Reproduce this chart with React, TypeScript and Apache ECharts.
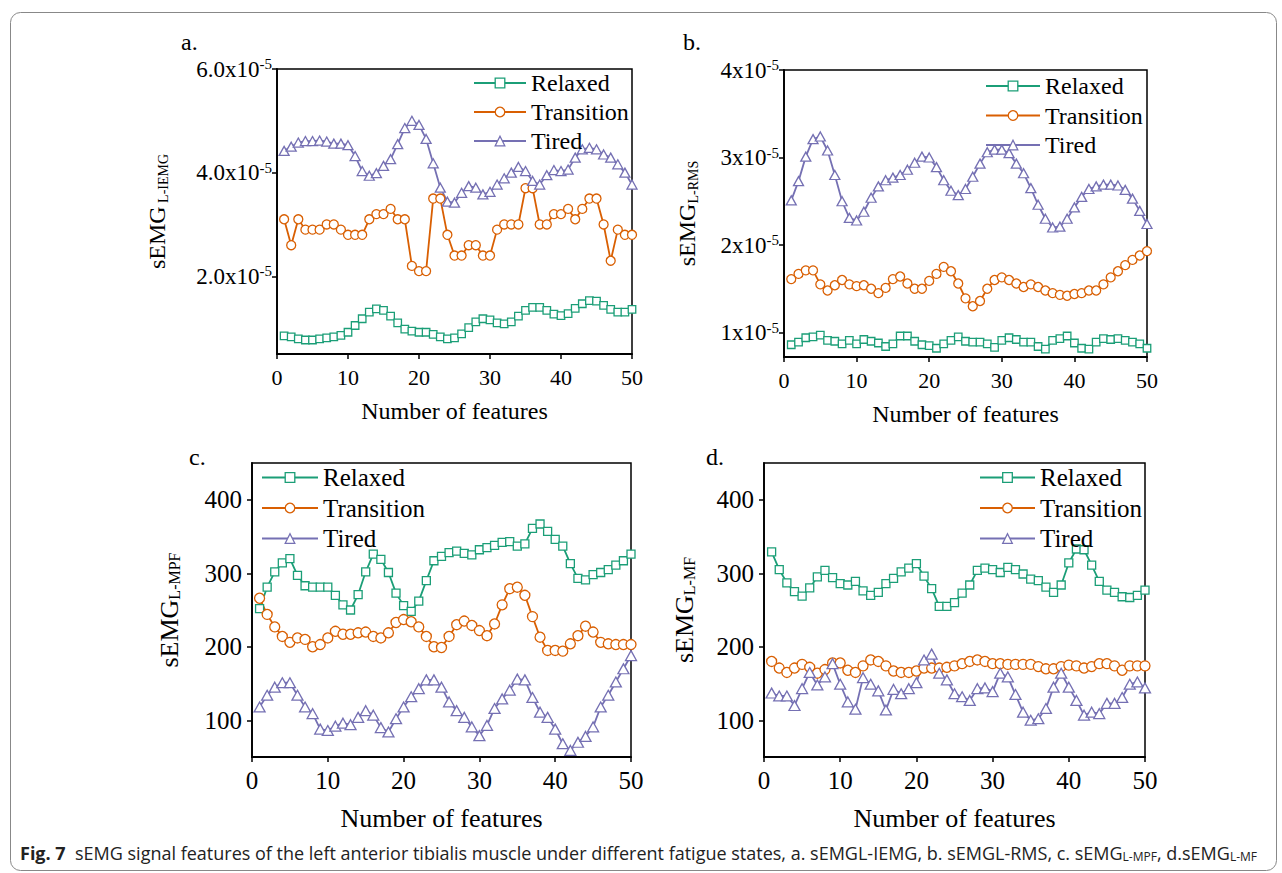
import React, { useEffect, useRef } from "react";
import * as echarts from "echarts";

// x positions (feature index)
const features = [
  1, 2, 3, 4, 5, 6, 7, 8, 9, 10, 11, 12, 13, 14, 15, 16, 17, 18, 19, 20, 21, 22, 23, 24, 25,
  26, 27, 28, 29, 30, 31, 32, 33, 34, 35, 36, 37, 38, 39, 40, 41, 42, 43, 44, 45, 46, 47, 48, 49, 50,
];
const xTicks = [0, 10, 20, 30, 40, 50];

// a. sEMG L-IEMG (values in units of 1e-5)
const iemgRelaxed = [0.85,0.83,0.79,0.77,0.77,0.79,0.81,0.83,0.86,0.92,1.05,1.18,1.31,1.37,1.34,1.23,1.10,0.98,0.94,0.92,0.92,0.88,0.83,0.79,0.81,0.89,1.01,1.12,1.18,1.16,1.10,1.08,1.12,1.23,1.34,1.40,1.40,1.34,1.27,1.24,1.28,1.38,1.47,1.53,1.52,1.44,1.36,1.31,1.31,1.36];
const iemgTransition = [3.1,2.6,3.1,2.9,2.9,2.9,3.0,3.0,2.9,2.8,2.8,2.8,3.1,3.2,3.2,3.3,3.1,3.1,2.2,2.1,2.1,3.5,3.5,2.8,2.4,2.4,2.6,2.6,2.4,2.4,2.9,3.0,3.0,3.0,3.7,3.7,3.0,3.0,3.2,3.2,3.3,3.1,3.3,3.5,3.5,3.0,2.3,2.9,2.8,2.8];
const iemgTired = [4.42,4.50,4.58,4.61,4.61,4.62,4.60,4.56,4.56,4.53,4.32,4.03,3.94,3.99,4.13,4.26,4.55,4.86,5.00,4.92,4.65,4.18,3.71,3.44,3.42,3.61,3.74,3.71,3.58,3.63,3.77,3.89,4.00,4.11,4.03,3.84,3.77,3.95,4.05,4.03,4.06,4.29,4.45,4.48,4.45,4.35,4.29,4.16,4.00,3.77];
const iemgTicks = [2, 4, 6];

// b. sEMG L-RMS (values in units of 1e-5)
const rmsRelaxed = [0.86,0.89,0.94,0.95,0.97,0.91,0.90,0.87,0.91,0.87,0.92,0.90,0.88,0.84,0.87,0.96,0.96,0.90,0.86,0.85,0.82,0.87,0.91,0.95,0.90,0.89,0.89,0.87,0.83,0.91,0.94,0.92,0.89,0.89,0.84,0.81,0.91,0.93,0.96,0.88,0.82,0.81,0.89,0.93,0.92,0.93,0.91,0.89,0.87,0.82];
const rmsTransition = [1.61,1.67,1.71,1.71,1.55,1.48,1.54,1.60,1.55,1.53,1.54,1.50,1.45,1.51,1.61,1.64,1.56,1.50,1.50,1.59,1.67,1.75,1.70,1.56,1.39,1.30,1.36,1.50,1.60,1.63,1.60,1.56,1.52,1.55,1.52,1.48,1.45,1.43,1.42,1.44,1.45,1.48,1.48,1.55,1.63,1.70,1.77,1.83,1.88,1.93];
const rmsTired = [2.51,2.73,3.01,3.21,3.24,3.08,2.80,2.50,2.31,2.28,2.38,2.54,2.67,2.74,2.77,2.80,2.86,2.94,3.01,3.00,2.89,2.74,2.62,2.57,2.64,2.78,2.93,3.06,3.09,3.09,3.05,2.93,2.82,2.65,2.46,2.30,2.20,2.21,2.30,2.43,2.55,2.64,2.67,2.69,2.69,2.68,2.63,2.53,2.39,2.24];
const rmsTicks = [1, 2, 3, 4];

// c. sEMG L-MPF
const mpfRelaxed = [252,281,302,314,320,297,283,281,281,281,270,257,250,271,302,326,319,301,273,256,248,262,290,317,323,328,330,327,325,332,335,338,342,343,337,340,361,367,357,346,337,313,293,291,298,301,305,311,317,326];
const mpfTransition = [266,244,227,214,206,212,210,200,203,212,221,217,217,219,220,214,212,219,233,237,234,227,214,200,199,214,230,235,229,222,215,231,257,279,281,270,241,213,195,195,194,204,215,228,220,206,204,203,203,203];
const mpfTired = [118,134,145,151,151,134,118,109,88,86,92,96,94,104,113,107,90,84,102,118,132,143,155,155,145,125,113,104,91,79,93,116,129,141,156,155,131,111,104,88,68,59,70,78,91,118,134,152,170,188];
const hzTicks = [100, 200, 300, 400];

// d. sEMG L-MF
const mfRelaxed = [329,305,287,275,269,280,295,304,294,286,284,289,276,270,274,286,293,302,307,313,296,279,255,255,260,273,284,304,307,305,301,308,305,299,292,290,281,274,284,314,333,332,311,289,277,274,268,267,270,277];
const mfTransition = [180,171,165,171,176,172,164,169,178,178,168,165,174,182,180,174,167,165,165,167,171,171,171,172,174,177,180,182,180,177,177,176,176,176,176,173,170,170,173,175,174,171,173,177,177,174,168,174,174,174];
const mfTired = [137,133,133,120,143,165,148,159,177,149,125,115,158,149,140,114,142,136,143,151,182,190,164,155,136,132,127,143,144,139,164,159,135,111,100,102,116,145,164,145,127,107,111,109,123,123,131,149,152,144];

const seriesNames = ["Relaxed", "Transition", "Tired"];
const COLORS: Record<string, string> = { Relaxed: "#1b9e77", Transition: "#d95f02", Tired: "#7570b3" };
const SYMBOLS: Record<string, string> = { Relaxed: "rect", Transition: "circle", Tired: "triangle" };
const FONT = "'Liberation Serif', 'Times New Roman', serif";
const SANS = "'Open Sans', 'Noto Sans', sans-serif";
const E5 = 1e-5;

type Panel = {
  letter: string; lx: number; ly: number;
  grid: { left: number; top: number; width: number; height: number };
  yMin: number; yMax: number; yTicks: number[];
  yFmt: (v: number) => string;
  yName: string; nameGap: number; xNameGap: number; xMargin: number; yMargin: number;
  data: number[][];
  legend: { left: number; top: number; itemWidth: number; gap: number };
  fs: { tick: number; xtick: number; sup: number; name: number; sub: number; legend: number };
  sym: number[];
};

const supFmt = (v: number, digits: number) => `{b|${(v / E5).toFixed(digits)}x10}{s|-5}`;

const panels: Panel[] = [
  {
    letter: "a.", lx: 181, ly: 43,
    grid: { left: 277, top: 69, width: 355, height: 285 },
    yMin: 0.5 * E5, yMax: 6 * E5, yTicks: iemgTicks.map((v) => v * E5),
    yFmt: (v) => supFmt(v, 1),
    yName: "{m|sEMG}{sub| L-IEMG}", nameGap: 107, xNameGap: 45, xMargin: 12, yMargin: 5,
    data: [iemgRelaxed.map((v) => v * E5), iemgTransition.map((v) => v * E5), iemgTired.map((v) => v * E5)],
    legend: { left: 468, top: 66, itemWidth: 52, gap: 5 },
    fs: { tick: 23, xtick: 22, sup: 15, name: 24, sub: 14, legend: 24 },
    sym: [7.5, 9, 10],
  },
  {
    letter: "b.", lx: 683, ly: 43,
    grid: { left: 784, top: 70, width: 363, height: 287 },
    yMin: 0.72 * E5, yMax: 4 * E5, yTicks: rmsTicks.map((v) => v * E5),
    yFmt: (v) => supFmt(v, 0),
    yName: "{m|sEMG}{sub|L-RMS}", nameGap: 84, xNameGap: 45, xMargin: 12, yMargin: 5,
    data: [rmsRelaxed.map((v) => v * E5), rmsTransition.map((v) => v * E5), rmsTired.map((v) => v * E5)],
    legend: { left: 980, top: 69, itemWidth: 54, gap: 5.5 },
    fs: { tick: 23, xtick: 22, sup: 15, name: 24, sub: 14, legend: 24 },
    sym: [7.5, 9, 10],
  },
  {
    letter: "c.", lx: 189, ly: 458,
    grid: { left: 252, top: 463, width: 379, height: 294 },
    yMin: 50, yMax: 450, yTicks: hzTicks,
    yFmt: (v) => `{b|${v}}`,
    yName: "{m|sEMG}{sub|L-MPF}", nameGap: 70, xNameGap: 48, xMargin: 11, yMargin: 10,
    data: [mpfRelaxed, mpfTransition, mpfTired],
    legend: { left: 256, top: 460, itemWidth: 56, gap: 5.5 },
    fs: { tick: 25, xtick: 25, sup: 14, name: 26, sub: 16, legend: 25 },
    sym: [8, 10, 11],
  },
  {
    letter: "d.", lx: 706, ly: 458,
    grid: { left: 764, top: 463, width: 381, height: 294 },
    yMin: 50, yMax: 450, yTicks: hzTicks,
    yFmt: (v) => `{b|${v}}`,
    yName: "{m|sEMG}{sub|L-MF}", nameGap: 67, xNameGap: 48, xMargin: 11, yMargin: 10,
    data: [mfRelaxed, mfTransition, mfTired],
    legend: { left: 974, top: 460, itemWidth: 55, gap: 5.5 },
    fs: { tick: 25, xtick: 25, sup: 14, name: 26, sub: 16, legend: 25 },
    sym: [8, 10, 11],
  },
];

function buildOption() {
  const grid: any[] = [];
  const xAxis: any[] = [];
  const yAxis: any[] = [];
  const series: any[] = [];
  const legend: any[] = [];
  const graphic: any[] = [];

  panels.forEach((p, i) => {
    grid.push({ ...p.grid, show: true, borderColor: "#000", borderWidth: 1.5, backgroundColor: "transparent" });
    xAxis.push({
      type: "value", gridIndex: i, min: xTicks[0], max: xTicks[xTicks.length - 1], interval: 10,
      axisLine: { show: true, onZero: false, lineStyle: { color: "#000", width: 1.8 } },
      axisTick: { show: true, inside: false, length: 5, lineStyle: { color: "#000", width: 1.5 } },
      axisLabel: { margin: p.xMargin, color: "#000", fontFamily: FONT, fontSize: p.fs.xtick },
      splitLine: { show: false },
      name: "Number of features", nameLocation: "middle", nameGap: p.xNameGap,
      nameTextStyle: { color: "#000", fontFamily: FONT, fontSize: p.fs.name },
    });
    yAxis.push({
      type: "value", gridIndex: i, min: p.yMin, max: p.yMax,
      axisLine: { show: true, onZero: false, lineStyle: { color: "#000", width: 1.8 } },
      axisTick: { show: true, inside: false, length: 5, customValues: p.yTicks, lineStyle: { color: "#000", width: 1.5 } },
      axisLabel: {
        customValues: p.yTicks, margin: p.yMargin, formatter: p.yFmt, color: "#000",
        rich: {
          b: { fontFamily: FONT, fontSize: p.fs.tick, color: "#000", lineHeight: p.fs.tick + 2 },
          s: { fontFamily: FONT, fontSize: p.fs.sup, color: "#000", verticalAlign: "top", lineHeight: 8 },
        },
      },
      splitLine: { show: false },
      name: p.yName, nameLocation: "middle", nameGap: p.nameGap,
      nameTextStyle: {
        rich: {
          m: { fontFamily: FONT, fontSize: p.fs.name, color: "#000", lineHeight: 26 },
          sub: { fontFamily: FONT, fontSize: p.fs.sub, color: "#000", verticalAlign: "bottom", lineHeight: 8 },
        },
      },
    });
    seriesNames.forEach((name, k) => {
      const c = COLORS[name];
      const size = p.sym[k];
      series.push({
        type: "line", name, xAxisIndex: i, yAxisIndex: i,
        data: p.data[k].map((v, j) => [features[j], v]),
        symbol: SYMBOLS[name],
        symbolSize: name === "Tired" ? [size, size * 0.9] : size,
        showSymbol: true, showAllSymbol: true, clip: false,
        lineStyle: { color: c, width: 1.8 },
        itemStyle: { color: "#fff", borderColor: c, borderWidth: 1.3 },
        emphasis: { disabled: true },
      });
    });
    legend.push({
      orient: "vertical", left: p.legend.left, top: p.legend.top,
      itemWidth: p.legend.itemWidth, itemHeight: 12, itemGap: p.legend.gap,
      selectedMode: false,
      textStyle: { fontFamily: FONT, fontSize: p.fs.legend, color: "#000", lineHeight: p.fs.legend },
      data: seriesNames.map((name) => ({
        name,
        itemStyle: { color: "#fff", borderColor: COLORS[name], borderWidth: 1.3 },
        lineStyle: { color: COLORS[name], width: 2 },
      })),
    });
    graphic.push({
      type: "text", left: p.lx, top: p.ly - 13,
      style: { text: p.letter, fontFamily: FONT, fontSize: 24, fill: "#000" },
    });
  });

  graphic.push({
    type: "rect", left: 8, top: 10,
    shape: { x: 0, y: 0, width: 1266, height: 858, r: 10 },
    style: { fill: "none", stroke: "#888", lineWidth: 1 },
    silent: true,
  });
  graphic.push({
    type: "text", left: 20, top: 844,
    style: {
      text: "{b|Fig. 7}{n|  sEMG signal features of the left anterior tibialis muscle under different fatigue states, a. sEMGL-IEMG, b. sEMGL-RMS, c. sEMG}{s|L-MPF}{n|, d.sEMG}{s|L-MF}",
      rich: {
        b: { fontFamily: SANS, fontWeight: "bold", fontSize: 18, fill: "#222" },
        n: { fontFamily: SANS, fontSize: 18, fill: "#222" },
        s: { fontFamily: SANS, fontSize: 12, fill: "#222", verticalAlign: "bottom", lineHeight: 7 },
      },
    },
  });

  return { animation: false, backgroundColor: "#fff", grid, xAxis, yAxis, series, legend, graphic };
}

export default function App() {
  const ref = useRef<HTMLDivElement>(null);
  useEffect(() => {
    document.body.style.margin = "0";
    if (!ref.current) return;
    const chart = echarts.init(ref.current, null, { renderer: "svg" });
    chart.setOption(buildOption() as any);
    return () => chart.dispose();
  }, []);
  return <div ref={ref} style={{ width: 1282, height: 873 }} />;
}
